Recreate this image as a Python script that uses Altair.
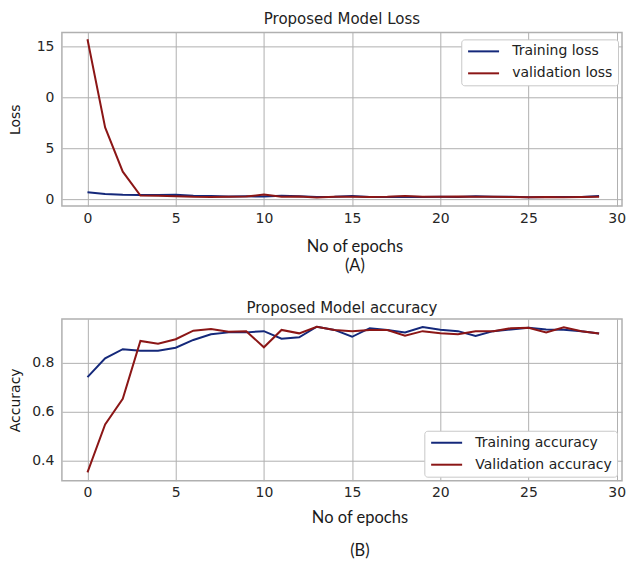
import altair as alt
import pandas as pd

# Epoch index and per-epoch metrics
epochs = list(range(30))

train_loss = [0.69, 0.52, 0.44, 0.40, 0.41, 0.43, 0.35, 0.31, 0.27, 0.28,
              0.27, 0.33, 0.30, 0.22, 0.23, 0.31, 0.22, 0.22, 0.24, 0.22,
              0.23, 0.22, 0.29, 0.25, 0.24, 0.20, 0.22, 0.22, 0.22, 0.31]
val_loss = [15.7, 7.05, 2.70, 0.36, 0.33, 0.30, 0.24, 0.22, 0.25, 0.26,
            0.46, 0.24, 0.26, 0.17, 0.23, 0.24, 0.22, 0.23, 0.31, 0.24,
            0.25, 0.27, 0.24, 0.23, 0.21, 0.20, 0.22, 0.20, 0.21, 0.24]

train_acc = [0.742, 0.819, 0.856, 0.850, 0.850, 0.862, 0.894, 0.917, 0.925, 0.925,
             0.930, 0.899, 0.905, 0.948, 0.935, 0.907, 0.942, 0.935, 0.925, 0.947,
             0.936, 0.930, 0.910, 0.930, 0.937, 0.944, 0.937, 0.936, 0.930, 0.920]
val_acc = [0.352, 0.548, 0.653, 0.890, 0.879, 0.897, 0.932, 0.939, 0.928, 0.930,
           0.864, 0.935, 0.921, 0.948, 0.935, 0.930, 0.935, 0.935, 0.911, 0.930,
           0.921, 0.917, 0.930, 0.930, 0.942, 0.944, 0.925, 0.946, 0.930, 0.920]

loss_series = ["Training loss", "validation loss"]
acc_series = ["Training accuracy", "Validation accuracy"]
x_ticks = [0, 5, 10, 15, 20, 25, 30]

NAVY = "#14287a"
MAROON = "#8b1616"
TICK_FONT = "DejaVu Sans"
CAPTION_FONT = "Lato"


def long_frame(names, a, b):
    return pd.DataFrame({
        "epoch": epochs + epochs,
        "value": a + b,
        "series": [names[0]] * len(a) + [names[1]] * len(b),
    })


def panel(df, names, title, title_offset, height, y_domain, y_ticks, y_title,
          y_label_expr, y_format, x_title_lines, x_title_x, x_title_y,
          x_line_height, legend_x, legend_y):
    y_axis = dict(values=y_ticks, title=y_title, titleX=-46, titleY=height / 2,
                  titleAngle=270, titleBaseline="middle", titleAlign="center",
                  titleFont=TICK_FONT, titleFontSize=14, titleFontWeight="normal",
                  labelPadding=8)
    if y_label_expr:
        y_axis["labelExpr"] = y_label_expr
    if y_format:
        y_axis["format"] = y_format
    return (
        alt.Chart(df)
        .mark_line(strokeWidth=2)
        .encode(
            x=alt.X("epoch:Q",
                    scale=alt.Scale(domain=[-1.45, 30.3], nice=False, zero=False),
                    axis=alt.Axis(values=x_ticks, title=x_title_lines,
                                  titleX=x_title_x, titleY=x_title_y,
                                  titleBaseline="alphabetic", titleAlign="center",
                                  titleFont=CAPTION_FONT, titleFontSize=16.5,
                                  titleFontWeight="normal",
                                  titleLineHeight=x_line_height,
                                  labelPadding=5)),
            y=alt.Y("value:Q",
                    scale=alt.Scale(domain=y_domain, nice=False, zero=False),
                    axis=alt.Axis(**y_axis)),
            color=alt.Color("series:N",
                            scale=alt.Scale(domain=names, range=[NAVY, MAROON]),
                            legend=alt.Legend(title=None, orient="none",
                                              legendX=legend_x, legendY=legend_y)),
        )
        .properties(
            width=561, height=height,
            title=alt.TitleParams(title, offset=title_offset, baseline="alphabetic",
                                  font=TICK_FONT, fontSize=15, fontWeight="normal",
                                  color="#222222"),
        )
    )


loss_chart = panel(
    long_frame(loss_series, train_loss, val_loss), loss_series,
    "Proposed Model Loss", -7, 174, [-0.68, 16.37], [0, 5, 10, 15], "Loss",
    "datum.value == 10 ? '0' : datum.label", None,
    ["No of epochs", "(A)"], 293, 45, 19, 400, 7,
)

acc_chart = panel(
    long_frame(acc_series, train_acc, val_acc), acc_series,
    "Proposed Model accuracy", -9, 162, [0.318, 0.98], [0.4, 0.6, 0.8], "Accuracy",
    None, ".1f",
    ["No of epochs", "(B)"], 298, 42, 33, 363, 112,
)

chart = (
    alt.vconcat(loss_chart, acc_chart, spacing=25)
    .resolve_scale(color="independent")
    .properties(padding={"left": 8, "top": 11, "right": 0, "bottom": 0})
    .configure(background="white")
    .configure_view(stroke="#b0b0b0", strokeWidth=1.5)
    .configure_axis(
        grid=True, gridColor="#b0b0b0", gridWidth=1,
        domain=False, ticks=False,
        labelFont=TICK_FONT, labelFontSize=14, labelColor="#262626",
        titleColor="#1a1a1a",
    )
    .configure_legend(
        symbolType="M-1,0L5,0", symbolSize=107, symbolStrokeWidth=2,
        labelOffset=32, labelFont=TICK_FONT, labelFontSize=14, labelColor="#222222",
        rowPadding=8, padding=5, fillColor="white", strokeColor="#c8c8c8",
        cornerRadius=3,
    )
)

chart.save("out.html", embed_options={"renderer": "svg", "actions": False})
